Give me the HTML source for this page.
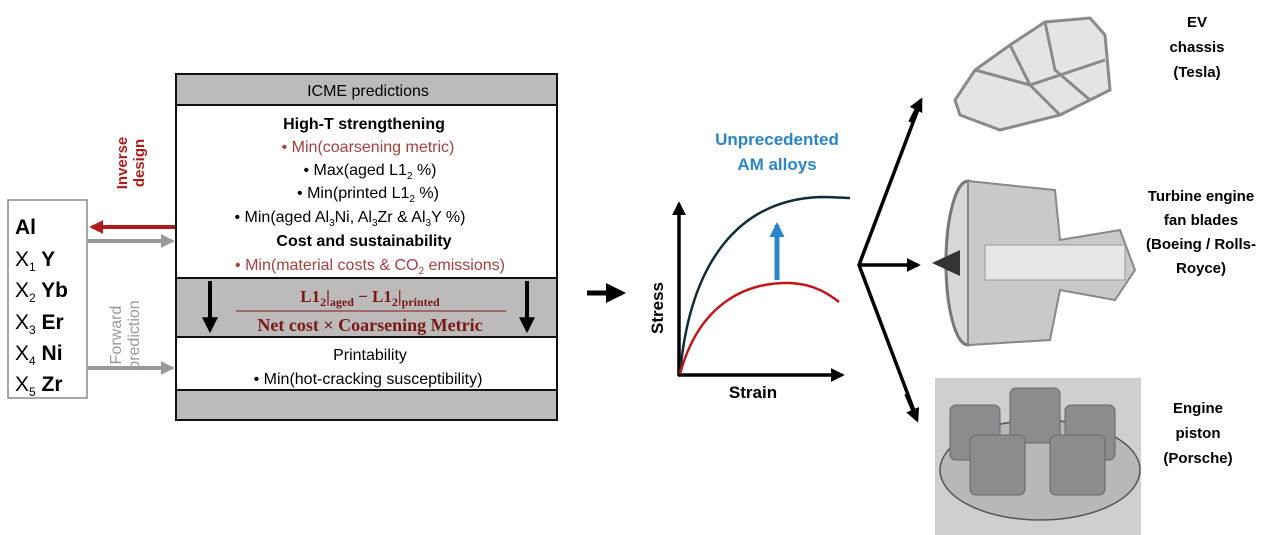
<!DOCTYPE html>
<html><head><meta charset="utf-8"><style>
body{margin:0;background:#fff}
svg{display:block}
</style></head><body>
<svg width="1267" height="535" viewBox="0 0 1267 535" xmlns="http://www.w3.org/2000/svg" font-family="Liberation Sans, sans-serif">
<defs>
<marker id="ak" viewBox="0 0 10 10" refX="8" refY="5" markerWidth="4" markerHeight="4" orient="auto"><path d="M0,0L10,5L0,10z" fill="#000"/></marker>
<marker id="ag" viewBox="0 0 10 10" refX="8" refY="5" markerWidth="3.5" markerHeight="3.5" orient="auto"><path d="M0,0L10,5L0,10z" fill="#999"/></marker>
<marker id="ar" viewBox="0 0 10 10" refX="8" refY="5" markerWidth="3.5" markerHeight="3.5" orient="auto"><path d="M0,0L10,5L0,10z" fill="#b01c1c"/></marker>
<marker id="ab" viewBox="0 0 10 10" refX="8" refY="5" markerWidth="3" markerHeight="3" orient="auto"><path d="M0,0L10,5L0,10z" fill="#2a86c8"/></marker>
</defs>
<!-- left box -->
<rect x="8" y="200" width="79" height="198" fill="#fff" stroke="#888" stroke-width="1.5"/>
<g font-size="21">
<text x="15" y="234" font-weight="bold">Al</text>
<text x="15" y="266">X<tspan font-size="12" dy="5">1</tspan><tspan dy="-5" font-weight="bold"> Y</tspan></text>
<text x="15" y="297">X<tspan font-size="12" dy="5">2</tspan><tspan dy="-5" font-weight="bold"> Yb</tspan></text>
<text x="15" y="329">X<tspan font-size="12" dy="5">3</tspan><tspan dy="-5" font-weight="bold"> Er</tspan></text>
<text x="15" y="360">X<tspan font-size="12" dy="5">4</tspan><tspan dy="-5" font-weight="bold"> Ni</tspan></text>
<text x="15" y="391">X<tspan font-size="12" dy="5">5</tspan><tspan dy="-5" font-weight="bold"> Zr</tspan></text>
</g>
<!-- arrows left -->
<line x1="175" y1="227" x2="92" y2="227" stroke="#b01c1c" stroke-width="4" marker-end="url(#ar)"/>
<line x1="88" y1="241" x2="172" y2="241" stroke="#999" stroke-width="4" marker-end="url(#ag)"/>
<line x1="88" y1="368" x2="172" y2="368" stroke="#999" stroke-width="4" marker-end="url(#ag)"/>
<text transform="translate(127,163) rotate(-90)" text-anchor="middle" font-size="15" font-weight="bold" fill="#b01c1c">Inverse</text>
<text transform="translate(144,163) rotate(-90)" text-anchor="middle" font-size="15" font-weight="bold" fill="#b01c1c">design</text>
<text transform="translate(121,335) rotate(-90)" text-anchor="middle" font-size="16" fill="#999">Forward</text>
<text transform="translate(139,335) rotate(-90)" text-anchor="middle" font-size="16" fill="#999">prediction</text>
<!-- main box -->
<rect x="176" y="74" width="381" height="346" fill="#fff" stroke="#111" stroke-width="2"/>
<rect x="176" y="74" width="381" height="31" fill="#bdbbba" stroke="#111" stroke-width="2"/>
<rect x="176" y="278" width="381" height="59" fill="#bdbbba" stroke="#111" stroke-width="2"/>
<rect x="176" y="390" width="381" height="30" fill="#bdbbba" stroke="#111" stroke-width="2"/>
<g font-size="16" text-anchor="middle">
<text x="368" y="96">ICME predictions</text>
<text x="364" y="129" font-weight="bold" font-size="16">High-T strengthening</text>
<text x="368" y="152" fill="#a8403c">•   Min(coarsening metric)</text>
<text x="370" y="175">•   Max(aged L1<tspan font-size="10" dy="4">2</tspan><tspan dy="-4"> %)</tspan></text>
<text x="368" y="198">•   Min(printed L1<tspan font-size="10" dy="4">2</tspan><tspan dy="-4"> %)</tspan></text>
<text x="350" y="222">•   Min(aged Al<tspan font-size="10" dy="4">3</tspan><tspan dy="-4">Ni, Al</tspan><tspan font-size="10" dy="4">3</tspan><tspan dy="-4">Zr &amp; Al</tspan><tspan font-size="10" dy="4">3</tspan><tspan dy="-4">Y %)</tspan></text>
<text x="364" y="246" font-weight="bold">Cost and sustainability</text>
<text x="370" y="270" fill="#a8403c">•   Min(material costs &amp; CO<tspan font-size="10" dy="4">2</tspan><tspan dy="-4"> emissions)</tspan></text>
<text x="370" y="360">Printability</text>
<text x="368" y="384">•   Min(hot-cracking susceptibility)</text>
</g>
<g style="font-family:'Liberation Serif',serif" font-weight="bold" fill="#7a1818" text-anchor="middle">
<text x="370" y="302" font-size="17">L1<tspan font-size="12" dy="4">2</tspan><tspan dy="-4">|</tspan><tspan font-size="12" dy="4">aged</tspan><tspan dy="-4"> − L1</tspan><tspan font-size="12" dy="4">2</tspan><tspan dy="-4">|</tspan><tspan font-size="12" dy="4">printed</tspan></text>
<text x="370" y="331" font-size="18">Net cost  × Coarsening Metric</text>
</g>
<line x1="236" y1="311" x2="506" y2="311" stroke="#7a1818" stroke-width="1"/>
<line x1="210" y1="281" x2="210" y2="330" stroke="#000" stroke-width="4" marker-end="url(#ak)"/>
<line x1="527" y1="281" x2="527" y2="330" stroke="#000" stroke-width="4" marker-end="url(#ak)"/>
<!-- middle arrow -->
<line x1="587" y1="293" x2="622" y2="293" stroke="#000" stroke-width="5" marker-end="url(#ak)"/>
<!-- chart -->
<text x="777" y="145" text-anchor="middle" font-size="17" font-weight="bold" fill="#2a86c8">Unprecedented</text>
<text x="777" y="170" text-anchor="middle" font-size="17" font-weight="bold" fill="#2a86c8">AM alloys</text>
<line x1="679" y1="376" x2="679" y2="204" stroke="#000" stroke-width="3.5" marker-end="url(#ak)"/>
<line x1="678" y1="375" x2="842" y2="375" stroke="#000" stroke-width="3.5" marker-end="url(#ak)"/>
<path d="M680,374 C690,260 740,200 820,197 C835,197 843,198 850,198" fill="none" stroke="#112c38" stroke-width="2.5"/>
<path d="M680,374 C700,300 750,282 790,283 C815,284 830,295 839,302" fill="none" stroke="#c01818" stroke-width="2.5"/>
<line x1="777" y1="280" x2="777" y2="225" stroke="#2a86c8" stroke-width="5" marker-end="url(#ab)"/>
<text transform="translate(663,308) rotate(-90)" text-anchor="middle" font-size="17" font-weight="bold">Stress</text>
<text x="753" y="398" text-anchor="middle" font-size="17" font-weight="bold">Strain</text>
<!-- branch arrows -->
<path d="M920,104 L859,265 L916,416" fill="none" stroke="#000" stroke-width="3.5"/>
<line x1="859" y1="265" x2="918" y2="265" stroke="#000" stroke-width="3.5" marker-end="url(#ak)"/>
<line x1="910" y1="122" x2="921" y2="100" stroke="#000" stroke-width="3.5" marker-end="url(#ak)"/>
<line x1="906" y1="394" x2="917" y2="420" stroke="#000" stroke-width="3.5" marker-end="url(#ak)"/>
<!-- images approximated -->
<g fill="none" stroke="#8a8a8a" stroke-width="3">
<path d="M955,100 L975,70 L1010,45 L1045,22 L1090,18 L1105,35 L1110,90 L1060,115 L1000,130 L960,115 Z" fill="#e4e4e4"/>
<path d="M1010,45 L1030,85 L1060,115 M1045,22 L1055,70 L1090,100 M975,70 L1030,85 L1105,60"/>
</g>
<g>
<ellipse cx="968" cy="263" rx="22" ry="82" fill="#d8d8d8" stroke="#777" stroke-width="3"/>
<path d="M968,181 L1055,190 L1060,240 L1120,230 L1135,270 L1115,300 L1060,290 L1050,340 L968,345 Z" fill="#c9c9c9" stroke="#888" stroke-width="2"/>
<rect x="985" y="245" width="140" height="35" fill="#e6e6e6" stroke="#999"/>
<path d="M932,263 L960,250 L960,276 Z" fill="#333"/>
</g>
<rect x="935" y="378" width="206" height="157" fill="#cfcfcf"/>
<ellipse cx="1040" cy="470" rx="100" ry="50" fill="#b8b8b8" stroke="#555" stroke-width="1.5"/>
<g fill="#8c8c8e" stroke="#666">
<rect x="1010" y="388" width="50" height="55" rx="6"/>
<rect x="950" y="405" width="50" height="55" rx="6"/>
<rect x="1065" y="405" width="50" height="55" rx="6"/>
<rect x="970" y="435" width="55" height="60" rx="6"/>
<rect x="1050" y="435" width="55" height="60" rx="6"/>
</g>
<!-- labels -->
<g font-size="15" font-weight="bold" text-anchor="middle">
<text x="1197" y="27">EV</text>
<text x="1197" y="52">chassis</text>
<text x="1197" y="77">(Tesla)</text>
<text x="1201" y="201">Turbine engine</text>
<text x="1201" y="225">fan blades</text>
<text x="1201" y="249">(Boeing / Rolls-</text>
<text x="1201" y="273">Royce)</text>
<text x="1198" y="413">Engine</text>
<text x="1198" y="438">piston</text>
<text x="1198" y="463">(Porsche)</text>
</g>
</svg>
</body></html>
